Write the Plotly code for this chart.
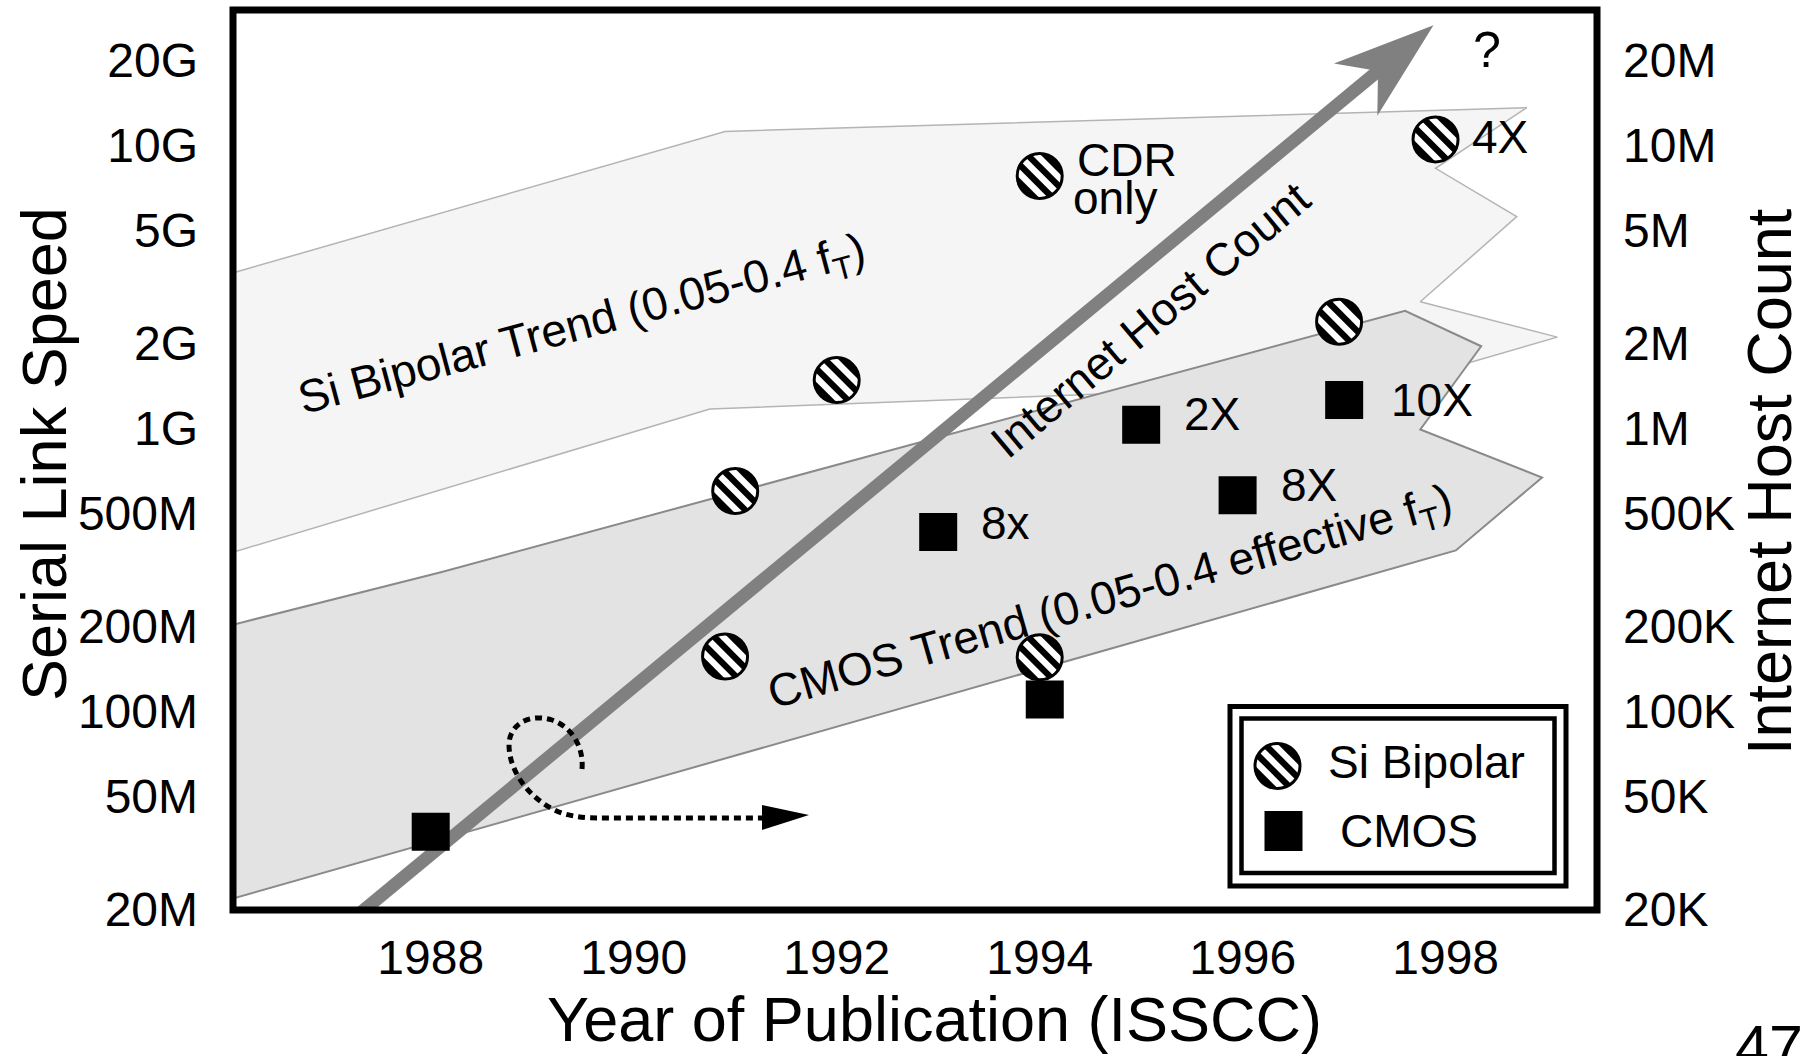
import numpy as np
import plotly.graph_objects as go

# ---------------- data ----------------
year_ticks = [1988, 1990, 1992, 1994, 1996, 1998]

speed_ticks = [2e7, 5e7, 1e8, 2e8, 5e8, 1e9, 2e9, 5e9, 1e10, 2e10]
speed_tick_labels = ["20M", "50M", "100M", "200M", "500M", "1G", "2G", "5G", "10G", "20G"]

host_ticks = [2e4, 5e4, 1e5, 2e5, 5e5, 1e6, 2e6, 5e6, 1e7, 2e7]
host_tick_labels = ["20K", "50K", "100K", "200K", "500K", "1M", "2M", "5M", "10M", "20M"]

# Published serial links, ISSCC (bits/s)
bipolar_years = [1990.9, 1991.0, 1992.0, 1994.0, 1994.0, 1996.95, 1997.9]
bipolar_speeds = [1.56e8, 6.0e8, 1.48e9, 7.8e9, 1.55e8, 2.38e9, 1.05e10]

cmos_years = [1988.0, 1993.0, 1994.05, 1995.0, 1995.95, 1997.0]
cmos_speeds = [3.75e7, 4.3e8, 1.1e8, 1.03e9, 5.8e8, 1.26e9]

# Notes printed beside individual designs: (point index, text)
bipolar_notes = [(3, "CDR"), (3, "only"), (6, "4X")]
cmos_notes = [(1, "8x"), (3, "2X"), (4, "8X"), (5, "10X")]

# Technology trend bands (outline, bits/s)
si_band_years = [1986.0, 1990.9, 1998.8, 1997.9, 1998.7, 1997.75, 1999.1, 1997.55, 1990.75, 1986.0]
si_band_speeds = [3.5e9, 1.12e10, 1.36e10, 8.3e9, 5.6e9, 2.8e9, 2.1e9, 1.45e9, 1.17e9, 3.6e8]

cmos_band_years = [1986.0, 1988.1, 1997.6, 1998.35, 1997.75, 1998.95, 1998.1, 1986.0]
cmos_band_speeds = [2.0e8, 3.1e8, 2.6e9, 1.95e9, 9.9e8, 6.7e8, 3.7e8, 2.15e7]

# Internet host count growth (hosts)
host_years = [1987.0, 1997.88]
host_counts = [1.57e4, 2.66e7]

# ---------------- layout geometry ----------------
W, H = 1816, 1056
PLOT_L, PLOT_R, PLOT_T, PLOT_B = 233, 1597, 10, 910
X_RANGE = [1986.052, 1999.491]
Y_RANGE = [7.2972, 10.4786]          # log10(bits/s)
PX_PER_YEAR = (PLOT_R - PLOT_L) / (X_RANGE[1] - X_RANGE[0])
PX_PER_DECADE = (PLOT_B - PLOT_T) / (Y_RANGE[1] - Y_RANGE[0])

FONT = "Liberation Sans, Arial, Helvetica, sans-serif"
TICK_SIZE = 48
LABEL_SIZE = 46
TITLE_SIZE = 63

MARKER_D = 45          # circle diameter (px)
STRIPE_R = 22.0        # hatch radius inside the circle outline
STRIPE_PERIOD = 12.6


def paper_x(px):
    return (px - PLOT_L) / (PLOT_R - PLOT_L)


def paper_y(py):
    return (PLOT_B - py) / (PLOT_B - PLOT_T)


def stripe_paths(r, period):
    """Black diagonal bands (upper-left to lower-right) clipped to a disc, pixel offsets, y up."""
    along = np.array([1.0, -1.0]) / np.sqrt(2)
    across = np.array([1.0, 1.0]) / np.sqrt(2)
    paths = []
    for k in range(-3, 3):
        c = (k + 0.5) * period
        s1 = max(c - period / 4, -r)
        s2 = min(c + period / 4, r)
        if s2 <= s1:
            continue
        s = np.linspace(s1, s2, 10)
        half = np.sqrt(np.clip(r ** 2 - s ** 2, 0, None))
        pts = [si * across + hi * along for si, hi in zip(s, half)]
        pts += [si * across - hi * along for si, hi in zip(s[::-1], half[::-1])]
        paths.append("M " + " L ".join(f"{p[0]:.2f},{p[1]:.2f}" for p in pts) + " Z")
    return paths


STRIPES = stripe_paths(STRIPE_R, STRIPE_PERIOD)

fig = go.Figure()

# trend bands
fig.add_trace(go.Scatter(
    x=si_band_years, y=si_band_speeds, mode="lines", fill="toself",
    fillcolor="#f5f5f5", line=dict(color="#b4b4b4", width=1.5),
    hoverinfo="skip", showlegend=False))
fig.add_trace(go.Scatter(
    x=cmos_band_years, y=cmos_band_speeds, mode="lines", fill="toself",
    fillcolor="#e3e3e3", line=dict(color="#8a8a8a", width=2),
    hoverinfo="skip", showlegend=False))

# host-count shaft: stops where the arrowhead notch begins
NOTCH, HEAD_LEN, HEAD_HALF = 72, 101, 34
dx = (host_years[1] - host_years[0]) * PX_PER_YEAR
dy = (np.log10(host_counts[1]) - np.log10(host_counts[0])) * PX_PER_DECADE
seg_len = np.hypot(dx, dy)
t_end = 1 - NOTCH / seg_len
shaft_year = host_years[0] + t_end * (host_years[1] - host_years[0])
shaft_count = 10 ** (np.log10(host_counts[0]) + t_end * (np.log10(host_counts[1]) - np.log10(host_counts[0])))
fig.add_trace(go.Scatter(
    x=[host_years[0], shaft_year], y=[host_counts[0], shaft_count], yaxis="y2",
    mode="lines", line=dict(color="#808080", width=13),
    hoverinfo="skip", showlegend=False))

# published designs
fig.add_trace(go.Scatter(
    x=bipolar_years, y=bipolar_speeds, yaxis="y3", mode="markers", name="Si Bipolar",
    marker=dict(symbol="circle", size=MARKER_D, color="white", line=dict(color="black", width=3)),
    showlegend=False))
fig.add_trace(go.Scatter(
    x=cmos_years, y=cmos_speeds, yaxis="y3", mode="markers", name="CMOS",
    marker=dict(symbol="square", size=38, color="black", line=dict(width=0)),
    showlegend=False))

shapes = []

# hatching on the bipolar circles
for yr, sp in zip(bipolar_years, bipolar_speeds):
    for d in STRIPES:
        shapes.append(dict(type="path", path=d, xref="x", yref="y",
                           xsizemode="pixel", ysizemode="pixel", xanchor=yr, yanchor=sp,
                           fillcolor="black", line=dict(width=0), layer="above"))

# arrowhead at the end of the host-count line
u = np.array([dx, dy]) / seg_len
nrm = np.array([-u[1], u[0]])
tip = np.array([0.0, 0.0])
barb_l = -HEAD_LEN * u + HEAD_HALF * nrm
barb_r = -HEAD_LEN * u - HEAD_HALF * nrm
notch = -NOTCH * u
head = [tip, barb_l, notch, barb_r]
shapes.append(dict(type="path",
                   path="M " + " L ".join(f"{p[0]:.2f},{p[1]:.2f}" for p in head) + " Z",
                   xref="x", yref="y2", xsizemode="pixel", ysizemode="pixel",
                   xanchor=host_years[1], yanchor=host_counts[1],
                   fillcolor="#808080", line=dict(width=0), layer="above"))


# dotted loop with arrow (drawn in paper space)
def ppath(cmds, close=False):
    out = []
    for c, pts in cmds:
        if c == "L":
            out.extend(f"L {paper_x(x):.5f},{paper_y(y):.5f}" for x, y in pts)
        else:
            out.append(c + " " + " ".join(f"{paper_x(x):.5f},{paper_y(y):.5f}" for x, y in pts))
    return " ".join(out) + (" Z" if close else "")


loop = [("M", [(582, 769)]),
        ("C", [(584, 745), (570, 726), (552, 720)]),
        ("C", [(530, 713), (509, 724), (509, 745)]),
        ("C", [(509, 775), (535, 805), (565, 814)]),
        ("C", [(580, 818), (590, 818), (600, 818)]),
        ("L", [(766, 818)])]
shapes.append(dict(type="path", path=ppath(loop), xref="paper", yref="paper",
                   line=dict(color="black", width=5, dash="7px,5px"), layer="above"))
shapes.append(dict(type="path",
                   path=ppath([("M", [(762, 805)]), ("L", [(809, 815), (762, 830)])], close=True),
                   xref="paper", yref="paper", fillcolor="black", line=dict(width=0), layer="above"))

# plot frame
shapes.append(dict(type="rect", xref="paper", yref="paper", x0=0, x1=1, y0=0, y1=1,
                   line=dict(color="black", width=7), fillcolor="rgba(0,0,0,0)", layer="above"))

# legend box (double rule)
shapes.append(dict(type="rect", xref="paper", yref="paper",
                   x0=paper_x(1230), x1=paper_x(1566), y0=paper_y(886), y1=paper_y(706.5),
                   line=dict(color="black", width=5), fillcolor="white", layer="above"))
shapes.append(dict(type="rect", xref="paper", yref="paper",
                   x0=paper_x(1241.5), x1=paper_x(1554.5), y0=paper_y(873), y1=paper_y(718.5),
                   line=dict(color="black", width=4.5), fillcolor="rgba(0,0,0,0)", layer="above"))
LEG_CIRCLE = (1277.5, 766)
LEG_SQUARE = (1283.5, 831)
r_out = MARKER_D / 2
shapes.append(dict(type="circle", xref="paper", yref="paper",
                   xsizemode="pixel", ysizemode="pixel",
                   xanchor=paper_x(LEG_CIRCLE[0]), yanchor=paper_y(LEG_CIRCLE[1]),
                   x0=-r_out, x1=r_out, y0=-r_out, y1=r_out,
                   fillcolor="white", line=dict(color="black", width=3), layer="above"))
for d in STRIPES:
    shapes.append(dict(type="path", path=d, xref="paper", yref="paper",
                       xsizemode="pixel", ysizemode="pixel",
                       xanchor=paper_x(LEG_CIRCLE[0]), yanchor=paper_y(LEG_CIRCLE[1]),
                       fillcolor="black", line=dict(width=0), layer="above"))
shapes.append(dict(type="rect", xref="paper", yref="paper",
                   xsizemode="pixel", ysizemode="pixel",
                   xanchor=paper_x(LEG_SQUARE[0]), yanchor=paper_y(LEG_SQUARE[1]),
                   x0=-19, x1=19, y0=-20, y1=20,
                   fillcolor="black", line=dict(width=0), layer="above"))

annotations = []


def txt(text, x, y, size=LABEL_SIZE, xref="paper", yref="paper",
        xanchor="center", yanchor="middle", **kw):
    a = dict(text=text, x=x, y=y, xref=xref, yref=yref, showarrow=False,
             xanchor=xanchor, yanchor=yanchor,
             font=dict(family=FONT, size=size, color="black"))
    a.update(kw)
    annotations.append(a)


# notes beside points (pixel offsets from the marker)
note_offsets = {"CDR": (35, 16), "only": (31, -22), "4X": (34, 2),
                "8x": (41, 9), "2X": (41, 11), "8X": (41, 10), "10X": (45, 0)}
for idx, label in bipolar_notes:
    ox, oy = note_offsets[label]
    txt(label, bipolar_years[idx], np.log10(bipolar_speeds[idx]), xref="x", yref="y",
        xanchor="left", xshift=ox, yshift=oy)
for idx, label in cmos_notes:
    ox, oy = note_offsets[label]
    txt(label, cmos_years[idx], np.log10(cmos_speeds[idx]), xref="x", yref="y",
        xanchor="left", xshift=ox, yshift=oy)

# band and trend captions
txt("Si Bipolar Trend (0.05-0.4 f<sub>T</sub>)", paper_x(582), paper_y(326), textangle=-15)
txt("CMOS Trend (0.05-0.4 effective f<sub>T</sub>)", paper_x(1110), paper_y(599), textangle=-16)
txt("Internet Host Count", paper_x(1150), paper_y(320), textangle=-40)
txt("?", paper_x(1487), paper_y(50), size=50)

# legend entries
txt("Si Bipolar", paper_x(1326), paper_y(762), xanchor="left")
txt("CMOS", paper_x(1338), paper_y(831), xanchor="left")

# axis titles and page number
txt("Serial Link Speed", paper_x(44), paper_y(454), size=TITLE_SIZE, textangle=-90)
txt("Internet Host Count", paper_x(1769), paper_y(482), size=TITLE_SIZE, textangle=-90)
txt("Year of Publication (ISSCC)", paper_x(934), paper_y(1019), size=TITLE_SIZE)
txt("47", paper_x(1769), paper_y(1047), size=61)

tick_font = dict(family=FONT, size=TICK_SIZE, color="black")
fig.update_layout(
    width=W, height=H, autosize=False,
    margin=dict(l=PLOT_L, r=W - PLOT_R, t=PLOT_T, b=H - PLOT_B, pad=0),
    paper_bgcolor="white", plot_bgcolor="white",
    showlegend=False,
    xaxis=dict(range=X_RANGE, tickvals=year_ticks, ticktext=[str(y) for y in year_ticks],
               showgrid=False, zeroline=False, showline=False, ticks="",
               tickfont=tick_font, ticklabelstandoff=15),
    yaxis=dict(type="log", range=Y_RANGE, tickvals=speed_ticks, ticktext=speed_tick_labels,
               showgrid=False, zeroline=False, showline=False, ticks="",
               tickfont=tick_font, ticklabelstandoff=34),
    yaxis2=dict(type="log", range=[Y_RANGE[0] - 3, Y_RANGE[1] - 3], overlaying="y", side="right",
                tickvals=host_ticks, ticktext=host_tick_labels,
                showgrid=False, zeroline=False, showline=False, ticks="",
                tickfont=tick_font, ticklabelstandoff=25),
    yaxis3=dict(type="log", range=Y_RANGE, overlaying="y", visible=False),
    shapes=shapes,
    annotations=annotations,
)

fig.write_html("out.html")
